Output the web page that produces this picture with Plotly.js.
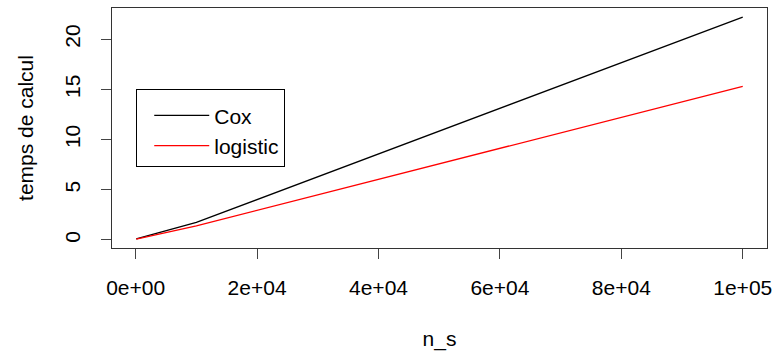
<!DOCTYPE html>
<html>
<head>
<meta charset="utf-8">
<script src="https://cdn.plot.ly/plotly-3.0.1.min.js"></script>
<style>html,body{margin:0;padding:0;background:#fff;}#chart{width:776px;height:355px;}</style>
</head>
<body>
<div id="chart"></div>
<script>
var n_s = [100, 10000, 100000];
var cox = [0.1, 1.75, 22.2];
var logistic = [0.09, 1.4, 15.3];
var xTickVals = [0, 20000, 40000, 60000, 80000, 100000];
var xTickText = ["0e+00", "2e+04", "4e+04", "6e+04", "8e+04", "1e+05"];
var yTickVals = [0, 5, 10, 15, 20];
var seriesNames = ["Cox", "logistic"];

var FONT = "Liberation Sans, Arial, Helvetica, sans-serif";
var FS = 21;
var traces = [
  {x: n_s, y: cox, name: seriesNames[0], type: "scatter", mode: "lines",
   line: {color: "#000000", width: 1.3}},
  {x: n_s, y: logistic, name: seriesNames[1], type: "scatter", mode: "lines",
   line: {color: "#ff0000", width: 1.3}}
];
var layout = {
  width: 776, height: 355,
  margin: {l: 112, r: 9, t: 8, b: 107},
  paper_bgcolor: "#fff", plot_bgcolor: "#fff",
  font: {family: FONT, size: FS, color: "#000"},
  showlegend: true,
  legend: {x: 0.037, y: 0.6625, xanchor: "left", yanchor: "top",
           bgcolor: "#fff", bordercolor: "#000", borderwidth: 1,
           indentation: 12, itemwidth: 55, entrywidth: 156, entrywidthmode: "pixels",
           title: {text: " ", font: {size: 4}},
           font: {family: FONT, size: FS, color: "#000"}},
  xaxis: {range: [-3896, 103996], tickmode: "array", tickvals: xTickVals, ticktext: xTickText,
          ticks: "outside", ticklen: 10, tickcolor: "#444", tickwidth: 1, ticklabelstandoff: 11,
          showline: true, linecolor: "#333", linewidth: 1, mirror: true,
          showgrid: false, zeroline: false,
          tickfont: {family: FONT, size: FS, color: "#000"},
          title: {text: "n_s", font: {family: FONT, size: FS, color: "#000"}, standoff: 33}},
  yaxis: {range: [-0.8, 23.1], tickmode: "array", tickvals: yTickVals,
          ticks: "outside", ticklen: 10, tickcolor: "#444", tickwidth: 1, tickangle: -90, ticklabelstandoff: 13,
          showline: true, linecolor: "#333", linewidth: 1, mirror: true,
          showgrid: false, zeroline: false,
          tickfont: {family: FONT, size: FS, color: "#000"},
          title: {text: "temps de calcul", font: {family: FONT, size: FS, color: "#000"}, standoff: 21}}
};
Plotly.newPlot("chart", traces, layout, {displayModeBar: false, staticPlot: true});
</script>
</body>
</html>
